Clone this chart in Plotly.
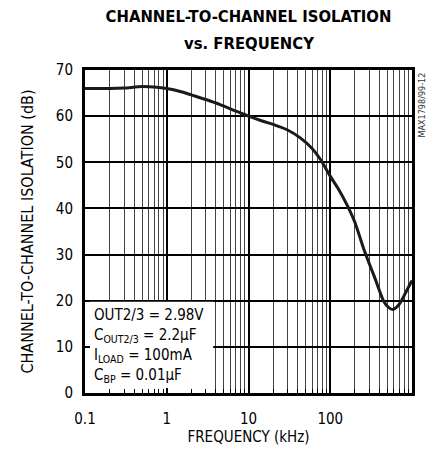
import plotly.graph_objects as go

# Data
freq_khz = [0.1, 0.2, 0.3, 0.5, 0.7, 1, 1.5, 2, 3, 4.5, 7, 10, 15, 20, 30, 43, 60, 76,
            100, 130, 162, 200, 257, 286, 350, 454, 520, 580, 650, 733, 850, 1000]
isolation_db = [66.0, 66.0, 66.1, 66.4, 66.3, 66.0, 65.3, 64.6, 63.6, 62.5, 61.1, 60.0,
                58.9, 58.2, 57.0, 55.3, 53.0, 50.6, 47.0, 43.8, 40.6, 37.0, 31.2, 29.0,
                25.0, 19.8, 18.5, 18.1, 18.6, 19.8, 22.0, 24.4]

x_tickvals = [0.1, 1, 10, 100, 1000]
x_ticktext = ["0.1", "1", "10", "100", "1000"]
x_minor = [m * d for d in [0.1, 1, 10, 100] for m in range(2, 10)]
y_tickvals = [0, 10, 20, 30, 40, 50, 60, 70]

title_lines = ["CHANNEL-TO-CHANNEL ISOLATION", "vs. FREQUENCY"]
legend_lines = [
    "OUT2/3 = 2.98V",
    "C<sub>OUT2/3</sub> = 2.2µF",
    "I<sub>LOAD</sub> = 100mA",
    "C<sub>BP</sub> = 0.01µF",
]
legend_y = [17.0, 12.5, 8.2, 3.7]

FONT = "DejaVu Sans Condensed, Liberation Sans Narrow, sans-serif"

fig = go.Figure()
fig.add_trace(go.Scatter(
    x=freq_khz, y=isolation_db, mode="lines",
    line=dict(color="#1a1a1a", width=3, shape="spline", smoothing=0.8),
    showlegend=False, hoverinfo="skip",
))

fig.add_shape(type="rect", xref="x", yref="y", x0=0.1, x1=3.7, y0=0, y1=19.8,
              fillcolor="white", line=dict(width=0), layer="between")

for txt, yy in zip(legend_lines, legend_y):
    fig.add_annotation(x=-0.91, y=yy, xref="x", yref="y", text=txt, showarrow=False,
                       xanchor="left", yanchor="middle",
                       font=dict(family=FONT, size=15, color="black"))

# second title line
fig.add_annotation(x=0.5, y=(395 - 43.5) / 325, xref="paper", yref="paper",
                   text="<b>" + title_lines[1] + "</b>", showarrow=False,
                   xanchor="center", yanchor="middle",
                   font=dict(family=FONT, size=16.5, color="black"))

fig.add_annotation(x=1.0, y=1.0, xref="paper", yref="paper", text="MAX1798/99-12",
                   textangle=-90, showarrow=False, xanchor="left", yanchor="top",
                   xshift=2, yshift=-1, font=dict(family=FONT, size=9, color="#333"))

fig.update_layout(
    width=428, height=455,
    margin=dict(l=85, r=16, t=70, b=60),
    paper_bgcolor="white", plot_bgcolor="white",
    title=dict(text="<b>" + title_lines[0] + "</b>",
               x=0.5, xref="paper", xanchor="center",
               y=1 - 16.5 / 455, yref="container", yanchor="middle",
               font=dict(family=FONT, size=16.5, color="black")),
    font=dict(family=FONT, size=15, color="black"),
)

fig.update_xaxes(
    type="log", range=[-1, 3],
    tickvals=x_tickvals, ticktext=x_ticktext,
    showgrid=True, gridcolor="black", gridwidth=2,
    ticks="inside", ticklen=5, tickwidth=2, tickcolor="black",
    minor=dict(tickvals=x_minor, showgrid=True, gridcolor="#444", gridwidth=1.3,
               ticks="inside", ticklen=4, tickcolor="black", tickwidth=1),
    showline=True, linecolor="black", linewidth=3, mirror=True,
    zeroline=False, ticklabelstandoff=10,
    tickfont=dict(family=FONT, size=15),
    title=dict(text="FREQUENCY (kHz)", font=dict(family=FONT, size=15), standoff=4),
)
fig.update_yaxes(
    range=[0, 70], tickvals=y_tickvals,
    showgrid=True, gridcolor="black", gridwidth=1.5,
    ticks="inside", ticklen=5, tickwidth=1.5, tickcolor="black",
    showline=True, linecolor="black", linewidth=3, mirror=True,
    zeroline=False, ticklabelstandoff=6,
    tickfont=dict(family=FONT, size=15),
    title=dict(text="CHANNEL-TO-CHANNEL ISOLATION (dB)", font=dict(family=FONT, size=16),
               standoff=19),
)

fig.write_html("out.html", config={"displayModeBar": False},
               post_script="document.body.style.margin='0';")
